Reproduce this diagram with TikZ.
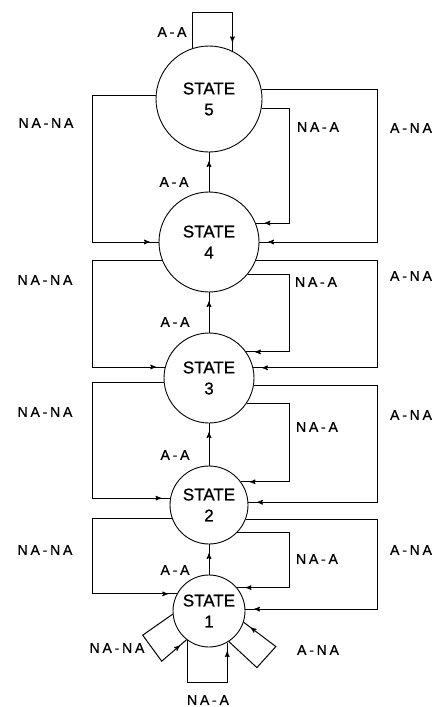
\documentclass[tikz,border=0pt]{standalone}
\usepackage{fontspec}
\setmainfont[FakeBold=0.8]{Liberation Sans}
\newfontfamily\lblfont[LetterSpace=20,FakeBold=0.8]{Liberation Sans}
\usetikzlibrary{arrows,calc,decorations.markings}
\tikzset{
st/.style={circle,draw,line width=0.9pt,inner sep=0pt,align=center,font=\fontsize{17}{21}\selectfont},
el/.style={font=\lblfont\fontsize{14}{16}\selectfont},
flow/.style={line width=1pt,postaction={decorate},
  decoration={markings,mark=at position -9pt with {\arrow{stealth'}}}},
}
\begin{document}
\begin{tikzpicture}[x=1pt,y=-1pt]
\useasboundingbox (0,0) rectangle (439,707);
\node[st,minimum size=106pt] (s5) at (209,99) {STATE\\5};
\node[st,minimum size=100pt] (s4) at (209,242) {STATE\\4};
\node[st,minimum size=90pt] (s3) at (209,378) {STATE\\3};
\node[st,minimum size=78pt] (s2) at (209,505) {STATE\\2};
\node[st,minimum size=72pt] (s1) at (209,611) {STATE\\1};
\coordinate (lft) at (92,0);
\coordinate (mid) at (289,0);
\coordinate (rgt) at (377,0);

\draw[flow] (s5.108) -- ++(0,-36) -| (s5.64);
\draw[flow] (s4.north) -- (s5.south);
\draw[flow] (s5.176) -- (s5.176 -| lft) |- (s4.180);
\draw[flow] (s5.-10) -- (s5.-10 -| mid) |- (s4.22);
\draw[flow] (s5.10) -- (s5.10 -| rgt) |- (s4.0);

\draw[flow] (s3.north) -- (s4.south);
\draw[flow] (s4.201) -- (s4.201 -| lft) |- (s3.166);
\draw[flow] (s4.-40) -- (s4.-40 -| mid) |- (s3.35);
\draw[flow] (s4.-22) -- (s4.-22 -| rgt) |- (s3.13);

\draw[flow] (s2.north) -- (s3.south);
\draw[flow] (s3.186) -- (s3.186 -| lft) |- (s2.170);
\draw[flow] (s3.-34) -- (s3.-34 -| mid) |- (s2.36);
\draw[flow] (s3.-9) -- (s3.-9 -| rgt) |- (s2.4);

\draw[flow] (s1.north) -- (s2.south);
\draw[flow] (s2.200) -- (s2.200 -| lft) |- (s1.152);
\draw[flow] (s2.-44) -- (s2.-44 -| mid) |- (s1.40);
\draw[flow] (s2.-22) -- (s2.-22 -| rgt) |- (s1.3);

\draw[flow] (s1.185) -- ++(-30,21) -- ++(19,26) -- (s1.232);
\draw[flow] (s1.-126) -- ++(0,42) -| (s1.-60);
\draw[flow] (s1.-57) -- ++(28,26) -- ++(19,-21) -- (s1.-18);

\node[el] (aa5) at (172,32) {A-A};
\node[el] (aa54) at (174,182) {A-A};
\node[el] (aa43) at (175,322) {A-A};
\node[el] (aa32) at (175,455) {A-A};
\node[el] (aa21) at (175,570) {A-A};
\node[el] (nn54) at (46,123) {NA-NA};
\node[el] (nn43) at (45,280) {NA-NA};
\node[el] (nn32) at (45,412) {NA-NA};
\node[el] (nn21) at (45,550) {NA-NA};
\node[el] (na54) at (318,127) {NA-A};
\node[el] (na43) at (316,282) {NA-A};
\node[el] (na32) at (317,427) {NA-A};
\node[el] (na21) at (317,559) {NA-A};
\node[el] (an54) at (411,128) {A-NA};
\node[el] (an43) at (411,276) {A-NA};
\node[el] (an32) at (411,415) {A-NA};
\node[el] (an21) at (411,550) {A-NA};
\node[el] (nn1) at (117,648) {NA-NA};
\node[el] (na1) at (208,700) {NA-A};
\node[el] (an1) at (318,650) {A-NA};
\end{tikzpicture}
\end{document}
